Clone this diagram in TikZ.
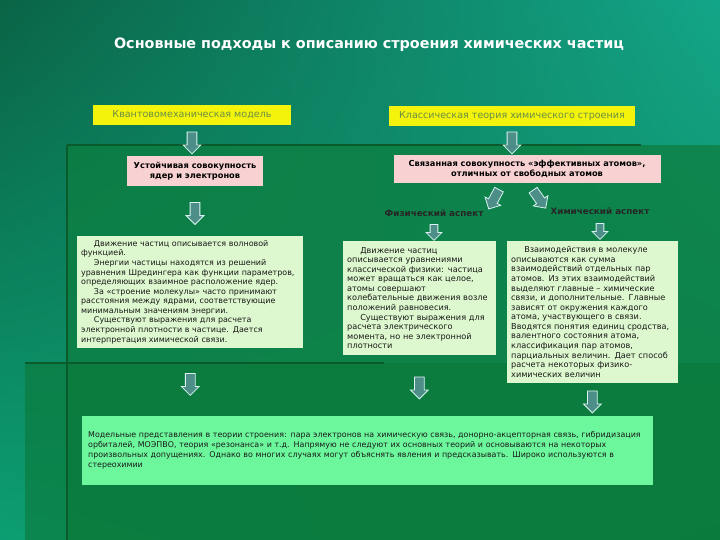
\documentclass[tikz,border=0pt]{standalone}
\usepackage{fontspec}
\setmainfont{DejaVu Sans}
\usepackage{xcolor}
\usetikzlibrary{positioning,shapes.arrows,calc,shadings}

\definecolor{sfondoscuro}{HTML}{0A6446}
\definecolor{sfondoteal}{HTML}{13A588}
\definecolor{sfondobasso}{HTML}{0C9E72}
\definecolor{sfondomedio}{HTML}{0E8A5A}
\definecolor{pannello}{HTML}{0D7E40}
\definecolor{pannellobasso}{HTML}{0B7838}
\definecolor{bordo}{HTML}{0A5A2C}
\definecolor{giallo}{HTML}{F3F30C}
\definecolor{testogiallo}{HTML}{6B8F46}
\definecolor{rosa}{HTML}{F8D2D2}
\definecolor{chiaro}{HTML}{DDF7CE}
\definecolor{menta}{HTML}{6CF79C}
\definecolor{frecciafill}{HTML}{4E8E88}
\definecolor{freccialine}{HTML}{D8F4F0}

\tikzset{
  titolo/.style={text=white, font=\fontsize{14.4}{16}\selectfont\bfseries},
  modello/.style={fill=giallo, text=testogiallo, minimum height=20, font=\fontsize{9.6}{11}\selectfont},
  insieme/.style={fill=rosa, text=black, align=center, font=\fontsize{8.3}{9.8}\selectfont\bfseries},
  aspetto/.style={text=black!85, font=\fontsize{8.8}{10}\selectfont\bfseries},
  testo/.style={fill=chiaro, text=black!90, align=left, inner xsep=4, anchor=north west, font=\fontsize{8.2}{9.6}\selectfont},
  freccia/.style={single arrow, draw=freccialine, fill=frecciafill, line width=0.8,
    minimum height=22, minimum width=17, single arrow head extend=4,
    single arrow head indent=0, inner sep=4.5, rotate=-90},
}

\begin{document}
\begin{tikzpicture}[x=1bp, y=-1bp]
  \useasboundingbox (0,0) rectangle (720,540);
  % sfondo
  \shade[upper left=sfondoscuro, upper right=sfondoteal, lower left=sfondobasso, lower right=sfondomedio] (0,0) rectangle (720,540);
  \fill[pannello, opacity=0.75] (67,145) rectangle (720,540);
  \fill[pannellobasso, opacity=0.6] (25,363) rectangle (720,540);
  \draw[bordo, line width=3] (67,145) -- (641,145);
  \draw[bordo, line width=2] (67,145) -- (67,540);
  \draw[bordo, line width=2.5] (25,363) -- (384,363);

  % titolo
  \node[titolo] (tit) at (369,45) {Основные подходы к описанию строения химических частиц};

  % due modelli
  \node[modello, minimum width=198] (qm) at (192,115) {Квантовомеханическая модель};
  \node[modello, minimum width=246] (cl) at (512,116) {Классическая теория химического строения};

  \node[insieme, minimum width=136, minimum height=30] (nucl) at (195,171) {Устойчивая совокупность\\ядер и электронов};
  \node[insieme, minimum width=268, minimum height=28] (atomi) at (527,169) {Связанная совокупность «эффективных атомов»,\\отличных от свободных атомов};

  \node[aspetto] (fis) at (434,213) {Физический аспект};
  \node[aspetto] (chim) at (600,211) {Химический аспект};

  % riquadri di testo
  \node[testo, text width=219, minimum height=112, font=\fontsize{8}{9.6}\selectfont] (qtxt) at (77,236) {%
    \hspace*{1.6em}Движение частиц описывается волновой\\
    функцией.\\
    \hspace*{1.6em}Энергии частицы находятся из решений\\
    уравнения Шредингера как функции параметров,\\
    определяющих взаимное расположение ядер.\\
    \hspace*{1.6em}За «строение молекулы» часто принимают\\
    расстояния между ядрами, соответствующие\\
    минимальным значениям энергии.\\
    \hspace*{1.6em}Существуют выражения для расчета\\
    электронной плотности в частице. Дается\\
    интерпретация химической связи.};
  \node[testo, text width=145, minimum height=114] (ftxt) at (343,241) {%
    \hspace*{1.6em}Движение частиц\\
    описывается уравнениями\\
    классической физики: частица\\
    может вращаться как целое,\\
    атомы совершают\\
    колебательные движения возле\\
    положений равновесия.\\
    \hspace*{1.6em}Существуют выражения для\\
    расчета электрического\\
    момента, но не электронной\\
    плотности};
  \node[testo, text width=163, minimum height=142] (ctxt) at (507,241) {%
    \hspace*{1.6em}Взаимодействия в молекуле\\
    описываются как сумма\\
    взаимодействий отдельных пар\\
    атомов. Из этих взаимодействий\\
    выделяют главные – химические\\
    связи, и дополнительные. Главные\\
    зависят от окружения каждого\\
    атома, участвующего в связи.\\
    Вводятся понятия единиц сродства,\\
    валентного состояния атома,\\
    классификация пар атомов,\\
    парциальных величин. Дает способ\\
    расчета некоторых физико-\\
    химических величин};

  \node[testo, fill=menta, inner xsep=6, text width=561, minimum height=69, font=\fontsize{7.95}{10}\selectfont] (mod) at (82,416) {%
    Модельные представления в теории строения: пара электронов на химическую связь, донорно-акцепторная связь, гибридизация\\
    орбиталей, МОЭПВО, теория «резонанса» и т.д. Напрямую не следуют их основных теорий и основываются на некоторых\\
    произвольных допущениях. Однако во многих случаях могут объяснять явления и предсказывать. Широко используются в\\
    стереохимии};

  % frecce
  \node[freccia] (f1) at ($(qm.south)!0.5!(qm.south |- nucl.north)$) {};
  \node[freccia] (f2) at ($(cl.south)!0.5!(cl.south |- atomi.north)$) {};
  \node[freccia] (f3) at ($(nucl.south)!0.5!(nucl.south |- qtxt.north)$) {};
  \node[freccia, rotate=-28] (f4) at ($(atomi.south)+(-32,14)$) {};
  \node[freccia, rotate=35] (f5) at ($(atomi.south)+(11,14)$) {};
  \node[freccia, minimum height=16, minimum width=13, inner sep=3.5] (f6) at ($(fis.south)!0.5!(fis.south |- ftxt.north)$) {};
  \node[freccia, minimum height=16, minimum width=13, inner sep=3.5] (f7) at ($(chim.south)!0.5!(chim.south |- ctxt.north)$) {};
  \node[freccia] (f8) at ($(qtxt.south)!0.5!(qtxt.south |- mod.north)$) {};
  \node[freccia] (f9) at ($(ftxt.south)!0.5!(ftxt.south |- mod.north)$) {};
  \node[freccia] (f10) at ($(ctxt.south)!0.5!(ctxt.south |- mod.north)$) {};
\end{tikzpicture}
\end{document}
